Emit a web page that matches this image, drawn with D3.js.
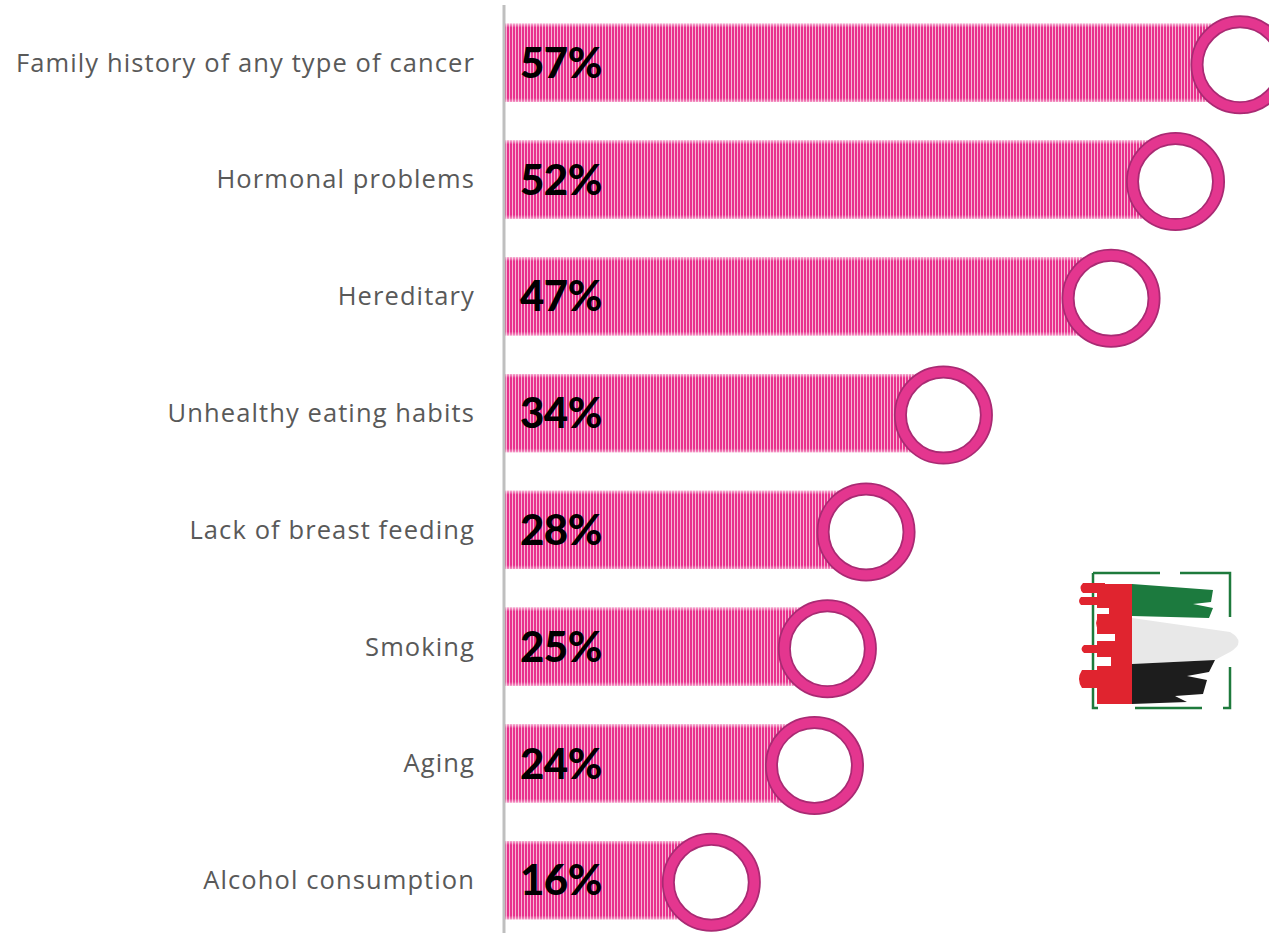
<!DOCTYPE html>
<html>
<head>
<meta charset="utf-8">
<script src="https://cdn.jsdelivr.net/npm/d3@7"></script>
<style>
  body { margin: 0; background: #fff; }
  svg { display: block; }
</style>
</head>
<body>
<svg id="chart" width="1269" height="933"></svg>
<script>
var categories = ["Family history of any type of cancer", "Hormonal problems", "Hereditary",
  "Unhealthy eating habits", "Lack of breast feeding", "Smoking", "Aging", "Alcohol consumption"];
var values = [57, 52, 47, 34, 28, 25, 24, 16];

var svg = d3.select("#chart"),
  width = +svg.attr("width"),
  height = +svg.attr("height");

var left = 505;

var x = d3.scaleLinear().domain([0, 57]).range([left, 1240]);
var y = d3.scaleBand().domain(categories).range([5, 938]).paddingInner(0.33).paddingOuter(0.16);

// striped fill for the bars
var defs = svg.append("defs");
var pat = defs.append("pattern")
  .attr("id", "stripes")
  .attr("patternUnits", "userSpaceOnUse")
  .attr("width", 3).attr("height", 10);
pat.append("rect").attr("width", 3).attr("height", 10).attr("fill", "#f7b6d5");
pat.append("rect").attr("width", 2).attr("height", 10).attr("fill", "#e8318d");

var fade = defs.append("linearGradient").attr("id", "fade").attr("x1", 0).attr("x2", 0).attr("y1", 0).attr("y2", 1);
fade.append("stop").attr("offset", 0).attr("stop-color", "#fff").attr("stop-opacity", 0.6);
fade.append("stop").attr("offset", 0.05).attr("stop-color", "#fff").attr("stop-opacity", 0);
fade.append("stop").attr("offset", 0.95).attr("stop-color", "#fff").attr("stop-opacity", 0);
fade.append("stop").attr("offset", 1).attr("stop-color", "#fff").attr("stop-opacity", 0.5);

var rows = svg.selectAll("g.row")
  .data(categories)
  .enter()
  .append("g")
  .attr("class", "row");

// bars
rows.append("rect")
  .attr("x", left)
  .attr("y", function(d) { return y(d); })
  .attr("width", function(d, i) { return x(values[i]) - left; })
  .attr("height", y.bandwidth())
  .attr("fill", "url(#stripes)");
rows.append("rect")
  .attr("x", left)
  .attr("y", function(d) { return y(d); })
  .attr("width", function(d, i) { return x(values[i]) - left; })
  .attr("height", y.bandwidth())
  .attr("fill", "url(#fade)");

// rings at the bar ends
rows.append("circle")
  .attr("cx", function(d, i) { return x(values[i]); })
  .attr("cy", function(d) { return y(d) + y.bandwidth() / 2 + 2; })
  .attr("r", 43)
  .attr("fill", "#fff")
  .attr("stroke", "#a92a73")
  .attr("stroke-width", 13);
rows.append("circle")
  .attr("cx", function(d, i) { return x(values[i]); })
  .attr("cy", function(d) { return y(d) + y.bandwidth() / 2 + 2; })
  .attr("r", 43)
  .attr("fill", "none")
  .attr("stroke", "#e4368f")
  .attr("stroke-width", 9.5);

// category labels
rows.append("text")
  .attr("x", 475)
  .attr("y", function(d) { return y(d) + y.bandwidth() / 2; })
  .attr("dy", "0.35em")
  .attr("text-anchor", "end")
  .attr("font-family", "'Open Sans', sans-serif")
  .attr("font-size", 25.5)
  .attr("letter-spacing", 1.1)
  .attr("fill", "#595959")
  .text(function(d) { return d; });

// value labels
rows.append("text")
  .attr("x", 520)
  .attr("y", function(d) { return y(d) + y.bandwidth() / 2; })
  .attr("dy", "0.36em")
  .attr("font-family", "Lato, sans-serif")
  .attr("font-weight", "900")
  .attr("font-size", 42)
  .attr("letter-spacing", -0.5)
  .attr("fill", "#000")
  .text(function(d, i) { return values[i] + "%"; });

// axis line
svg.append("line")
  .attr("x1", 504).attr("x2", 504)
  .attr("y1", 5).attr("y2", 933)
  .attr("stroke", "#bfbfbf")
  .attr("stroke-width", 3);

// flag logo
var logo = svg.append("g").attr("transform", "translate(1075,572)");
logo.append("path").attr("d", "M18,1 H85 M105,1 H155 V45 M155,95 V136 H148 M127,136 H60 M23,136 H18 V1")
  .attr("fill", "none").attr("stroke", "#1e7a3c").attr("stroke-width", 2.5);
logo.append("path").attr("d", "M57,12 L138,18 L136,30 L118,32 L138,36 L134,46 L57,44 Z").attr("fill", "#1c7a3e");
logo.append("path").attr("d", "M57,46 L155,60 Q172,70 155,80 L140,88 L57,92 Z").attr("fill", "#e8e8e8");
logo.append("path").attr("d", "M57,92 L140,88 L134,100 L112,104 L132,108 L128,122 L100,124 L112,130 L57,132 Z").attr("fill", "#1d1d1d");
logo.append("rect").attr("x", 22).attr("y", 12).attr("width", 35).attr("height", 120).attr("fill", "#e0242f");
logo.append("path")
  .attr("d", "M8,11 H30 V21 H8 Q3,16 8,11 Z M6,25 H30 V33 H6 Q2,29 6,25 Z M24,45 H30 V58 H24 Q18,51 24,45 Z M9,73 H30 V81 H9 Q4,77 9,73 Z M7,98 H30 V116 H7 Q1,107 7,98 Z")
  .attr("fill", "#e0242f");
logo.append("path")
  .attr("d", "M22,36 H34 V42 H22 Z M22,62 H40 V69 H22 Z M22,85 H36 V94 H22 Z")
  .attr("fill", "#fff");
</script>
</body>
</html>
